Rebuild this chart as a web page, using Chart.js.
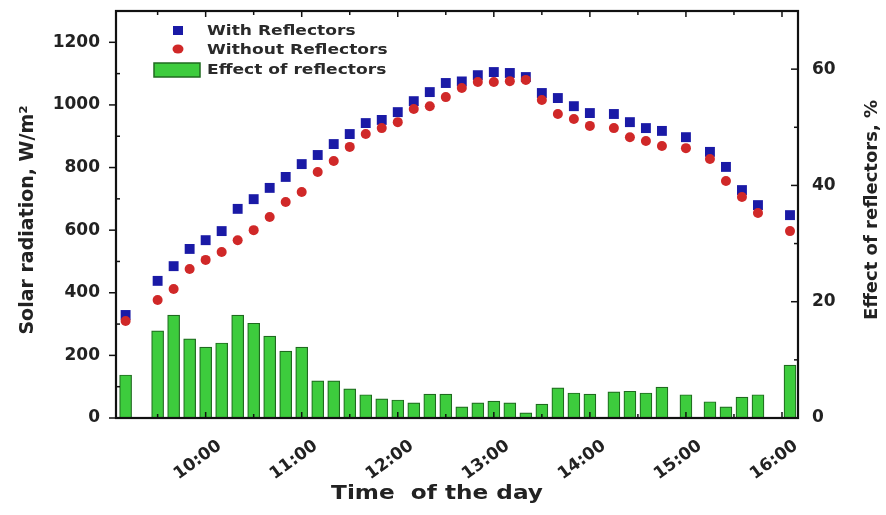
<!DOCTYPE html>
<html><head><meta charset="utf-8">
<script src="https://cdn.jsdelivr.net/npm/chart.js@4/dist/chart.umd.min.js"></script>
<style>html,body{margin:0;padding:0;background:#fff;} canvas{display:block;}</style>
</head><body>
<canvas id="c" width="886" height="515"></canvas>
<script>
// ---- data ----
const times = ['9:10','9:30','9:40','9:50','10:00','10:10','10:20','10:30','10:40','10:50',
  '11:00','11:10','11:20','11:30','11:40','11:50','12:00','12:10','12:20','12:30',
  '12:40','12:50','13:00','13:10','13:20','13:30','13:40','13:50','14:00','14:15',
  '14:25','14:35','14:45','15:00','15:15','15:25','15:35','15:45','16:05'];
const withReflectors = [329,438,485,540,568,597,668,699,735,770,
  811,840,875,907,942,952,977,1012,1041,1070,
  1075,1095,1105,1102,1089,1038,1022,996,974,971,
  945,926,917,897,850,802,728,680,648];
const withoutReflectors = [310,377,412,476,505,530,568,600,642,690,
  722,786,821,866,907,926,945,987,996,1025,
  1054,1073,1073,1076,1080,1016,971,955,933,926,
  897,885,869,862,827,757,706,655,597];
const effectOfReflectors = [7.4,15.0,17.7,13.6,12.2,12.9,17.7,16.3,14.1,11.5,
  12.2,6.4,6.4,5.0,4.0,3.3,3.1,2.6,4.1,4.1,
  1.9,2.6,2.9,2.6,0.9,2.4,5.2,4.3,4.1,4.5,
  4.6,4.3,5.3,4.0,2.8,1.9,3.6,4.0,9.1];
const xTickLabels = ['10:00','11:00','12:00','13:00','14:00','15:00','16:00'];
const yLeftTicks = [0,200,400,600,800,1000,1200];
const yRightTicks = [0,20,40,60];
const seriesLabels = ['With Reflectors','Without Reflectors','Effect of reflectors'];
const xTitle = 'Time  of the day';
const yLeftTitle = 'Solar radiation, W/m\u00B2';
const yRightTitle = 'Effect of reflectors, %';
const xRange = ['9:04','16:10'];
const yLeftRange = [0,1300];
const yRightRange = [0,70];

// ---- helpers ----
function toMin(t){const p=t.split(':').map(Number);return p[0]*60+p[1];}
const xs = times.map(toMin);
const xTickValues = xTickLabels.map(toMin);
const pts = arr => arr.map((v,i)=>({x:xs[i], y:v}));

const FONT = 'DejaVu Sans';
const BLUE = '#1a1aa6', RED = '#d02828', GREEN = '#3dcc3d', GREEN_DARK = '#1f6a1f';

function stretchText(ctx, txt, x, y, sx){
  ctx.save(); ctx.translate(x,y); ctx.scale(sx,1); ctx.fillText(txt,0,0); ctx.restore();
}

const decor = {
  id:'decor',
  afterDraw(chart){
    const {ctx, chartArea:a, scales} = chart;
    const x = scales.x, yl = scales.y, yr = scales.y1;
    ctx.save();
    ctx.strokeStyle = '#111';
    ctx.lineWidth = 1.5;
    const seg=(x1,y1,x2,y2)=>{ctx.beginPath();ctx.moveTo(x1,y1);ctx.lineTo(x2,y2);ctx.stroke();};
    yLeftTicks.forEach(v=>{
      const p = yl.getPixelForValue(v); seg(a.left-7,p,a.left,p);
      const m = v + (yLeftTicks[1]-yLeftTicks[0])/2;
      if (m < yLeftRange[1]) { const q = yl.getPixelForValue(m); seg(a.left,q,a.left+4,q); }
    });
    yRightTicks.forEach(v=>{
      const p = yr.getPixelForValue(v); seg(a.right-7,p,a.right,p);
      const m = v + (yRightTicks[1]-yRightTicks[0])/2;
      if (m < yRightRange[1]) { const q = yr.getPixelForValue(m); seg(a.right-4,q,a.right,q); }
    });
    xTickValues.forEach(v=>{
      const p = x.getPixelForValue(v); seg(p,a.top,p,a.top+6); seg(p,a.bottom,p,a.bottom-6);
      const m = v - 30; const q = x.getPixelForValue(m);
      if (m > x.min) { seg(q,a.top,q,a.top+4); seg(q,a.bottom,q,a.bottom-4); }
    });
    ctx.lineWidth = 2.2;
    ctx.strokeRect(a.left, a.top, a.right-a.left, a.bottom-a.top);

    // axis titles
    ctx.fillStyle = '#222';
    ctx.textAlign = 'center'; ctx.textBaseline = 'middle';
    ctx.font = 'bold 19px ' + FONT;
    stretchText(ctx, xTitle, 437, 494, 1.22);
    ctx.font = 'bold 19px ' + FONT;
    ctx.save(); ctx.translate(28, 220); ctx.rotate(-Math.PI/2); ctx.fillText(yLeftTitle,0,0); ctx.restore();
    ctx.font = 'bold 18px ' + FONT;
    ctx.save(); ctx.translate(872, 210); ctx.rotate(-Math.PI/2); ctx.fillText(yRightTitle,0,0); ctx.restore();

    // legend
    ctx.font = 'bold 14px ' + FONT;
    ctx.textAlign = 'left';
    ctx.fillStyle = BLUE; ctx.fillRect(173,26,10,9);
    ctx.fillStyle = RED; ctx.beginPath(); ctx.ellipse(178,49,5.5,4.6,0,0,Math.PI*2); ctx.fill();
    ctx.fillStyle = GREEN; ctx.fillRect(154,63,46,14);
    ctx.strokeStyle = GREEN_DARK; ctx.lineWidth = 1.5; ctx.strokeRect(154,63,46,14);
    ctx.fillStyle = '#2a2a2a';
    stretchText(ctx, seriesLabels[0], 207, 31, 1.22);
    stretchText(ctx, seriesLabels[1], 207, 50, 1.22);
    stretchText(ctx, seriesLabels[2], 207, 70, 1.22);
    ctx.restore();
  }
};

const tickFont = {family: FONT, size: 17, weight: 'bold'};
const noPad = s => { s.paddingTop = 0; s.paddingBottom = 0; s.paddingLeft = 0; s.paddingRight = 0; };

new Chart(document.getElementById('c'), {
  type: 'bar',
  data: {
    datasets: [
      { type:'line', label: seriesLabels[1], data: pts(withoutReflectors), yAxisID:'y',
        showLine:false, pointStyle:'circle', pointRadius:5, pointBackgroundColor:RED,
        pointBorderColor:RED, pointBorderWidth:0, order:0 },
      { type:'line', label: seriesLabels[0], data: pts(withReflectors), yAxisID:'y',
        showLine:false, pointStyle:'rect', pointRadius:7, pointBackgroundColor:BLUE,
        pointBorderColor:BLUE, pointBorderWidth:0, order:1 },
      { type:'bar', label: seriesLabels[2], data: pts(effectOfReflectors), yAxisID:'y1',
        backgroundColor: GREEN, borderColor: GREEN_DARK, borderWidth: 1.2,
        barThickness: 12, order:2 }
    ]
  },
  options: {
    responsive:false, animation:false, devicePixelRatio:1,
    layout:{padding:{top:11,left:0,right:0,bottom:0}},
    plugins:{legend:{display:false}, tooltip:{enabled:false}},
    scales:{
      x:{ type:'linear', position:'bottom', offset:false, min: toMin(xRange[0]), max: toMin(xRange[1]),
        grid:{display:false, offset:false}, border:{display:false},
        afterBuildTicks: s => { s.ticks = xTickValues.map(v=>({value:v})); },
        afterFit: s => { s.height = 97; noPad(s); },
        ticks:{ autoSkip:false, minRotation:36, maxRotation:36, padding:10, labelOffset:14,
          color:'#222', font:tickFont,
          callback:(v)=>{ const i = xTickValues.indexOf(v); return i>=0 ? xTickLabels[i] : ''; } } },
      y:{ type:'linear', position:'left', min: yLeftRange[0], max: yLeftRange[1],
        grid:{display:false}, border:{display:false},
        afterBuildTicks: s => { s.ticks = yLeftTicks.map(v=>({value:v})); },
        afterFit: s => { s.width = 116; noPad(s); },
        ticks:{ padding:8, color:'#222', font:tickFont, callback: v => String(v) } },
      y1:{ type:'linear', position:'right', min: yRightRange[0], max: yRightRange[1],
        grid:{display:false}, border:{display:false},
        afterBuildTicks: s => { s.ticks = yRightTicks.map(v=>({value:v})); },
        afterFit: s => { s.width = 88; noPad(s); },
        ticks:{ padding:6, color:'#222', font:tickFont, callback: v => String(v) } }
    }
  },
  plugins:[decor]
});
</script>
</body></html>
